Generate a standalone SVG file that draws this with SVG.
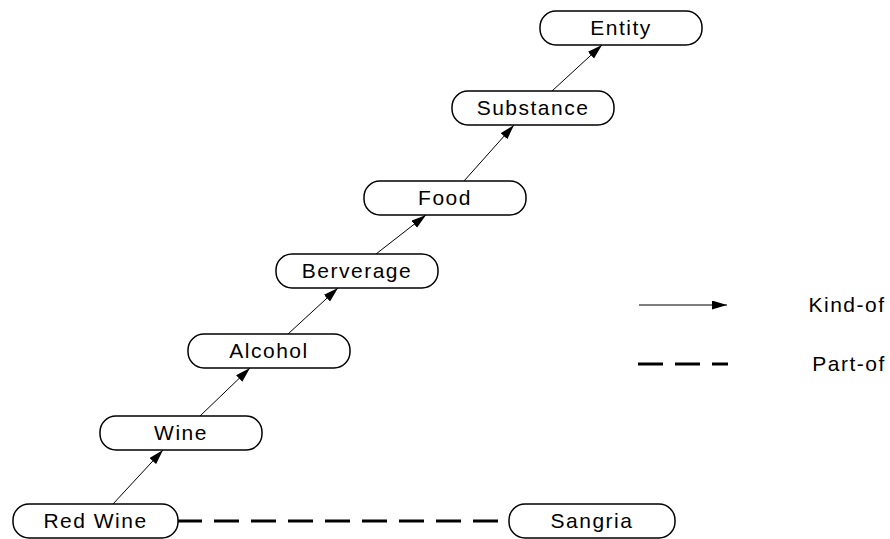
<svg xmlns="http://www.w3.org/2000/svg" width="890" height="539" viewBox="0 0 890 539">
  <style>
    .node rect { fill: #ffffff; stroke: #000000; stroke-width: 1.5; }
    .node text, .legend text { font-family: "Liberation Sans", Arial, sans-serif; font-size: 21px; letter-spacing: 1.5px; fill: #000000; text-anchor: middle; }
    .kind { stroke: #000000; stroke-width: 1; fill: none; marker-end: url(#arrow); }
    .part { stroke: #000000; stroke-width: 3; fill: none; stroke-dasharray: 25 12; }
  </style>
  <defs>
    <marker id="arrow" markerUnits="userSpaceOnUse" markerWidth="16" markerHeight="10" refX="15" refY="4.5" orient="auto">
      <path d="M0,0 L15,4.5 L0,9 Z" fill="#000000"/>
    </marker>
  </defs>
  <rect width="890" height="539" fill="#ffffff"/>

  <!-- connectors -->
  <g id="connectors">
    <line class="kind" x1="113" y1="504" x2="163" y2="450"/>
    <line class="kind" x1="200" y1="416" x2="250" y2="368"/>
    <line class="kind" x1="288" y1="334" x2="338" y2="288"/>
    <line class="kind" x1="376" y1="254" x2="426" y2="215"/>
    <line class="kind" x1="464" y1="181" x2="514" y2="125"/>
    <line class="kind" x1="552" y1="91" x2="602" y2="45"/>
    <line class="part" x1="177" y1="521" x2="498" y2="521"/>
  </g>

  <!-- nodes -->
  <g id="entity" class="node">
    <rect x="540" y="11" width="162" height="34" rx="16"/>
    <text x="621" y="35">Entity</text>
  </g>
  <g id="substance" class="node">
    <rect x="452" y="91" width="162" height="34" rx="16"/>
    <text x="533" y="115">Substance</text>
  </g>
  <g id="food" class="node">
    <rect x="364" y="181" width="162" height="34" rx="16"/>
    <text x="445" y="205">Food</text>
  </g>
  <g id="berverage" class="node">
    <rect x="276" y="254" width="162" height="34" rx="16"/>
    <text x="357" y="278">Berverage</text>
  </g>
  <g id="alcohol" class="node">
    <rect x="188" y="334" width="162" height="34" rx="16"/>
    <text x="269" y="358">Alcohol</text>
  </g>
  <g id="wine" class="node">
    <rect x="100" y="416" width="162" height="34" rx="16"/>
    <text x="181" y="440">Wine</text>
  </g>
  <g id="red-wine" class="node">
    <rect x="13" y="504" width="165" height="34" rx="16"/>
    <text x="95.5" y="528">Red Wine</text>
  </g>
  <g id="sangria" class="node">
    <rect x="509" y="504" width="166" height="34" rx="16"/>
    <text x="592" y="528">Sangria</text>
  </g>

  <!-- legend -->
  <g id="legend" class="legend">
    <line class="kind" x1="639" y1="305" x2="727" y2="305"/>
    <text x="847" y="312">Kind-of</text>
    <line class="part" x1="638" y1="364" x2="728" y2="364"/>
    <text x="849" y="371">Part-of</text>
  </g>
</svg>
